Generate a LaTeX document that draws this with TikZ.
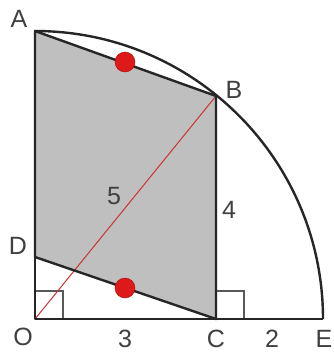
\documentclass[tikz,border=0pt]{standalone}
\usepackage{fontspec}
\setmainfont{Liberation Sans}
\begin{document}
\begin{tikzpicture}[x=1pt,y=-1pt,
  edge/.style={draw=black!85,line width=2.4pt,line join=round},
  rmark/.style={draw=black!65,line width=1.3pt},
  lbl/.style={font=\fontsize{25}{30}\selectfont,text=black!75,inner sep=0pt},
  dot/.style={circle,fill=red!85!black!90,draw=red!70!black,inner sep=0pt,minimum size=20pt}]
\useasboundingbox[fill=white] (0,0) rectangle (334,353);
\coordinate (O) at (35,319);
\coordinate (A) at (35,31);
\coordinate (B) at (216,96);
\coordinate (C) at (216,319);
\coordinate (D) at (35,257);
\coordinate (E) at (323,319);
\fill[black!25] (A) -- (B) -- (C) -- (D) -- cycle;
\draw[rmark] (35,291) -- (63,291) -- (63,319);
\draw[rmark] (216,291) -- (244,291) -- (244,319);
\draw[red!75!black!80,line width=1pt] (O) -- (B);
\draw[edge] (A) -- (B) -- (C) -- (D) -- cycle;
\draw[edge] (D) -- (O) -- (E);
\draw[edge] (A) arc[start angle=-90,end angle=0,radius=288];
\node[dot] (m1) at (125,62) {};
\node[dot] (m2) at (125,288) {};
\node[lbl] (lA) at (19,19) {A};
\node[lbl] (lB) at (234,90) {B};
\node[lbl] (lD) at (18,246) {D};
\node[lbl] (lO) at (23,337) {O};
\node[lbl] (l3) at (125,339) {3};
\node[lbl] (lC) at (216,339) {C};
\node[lbl] (l2) at (272,339) {2};
\node[lbl] (lE) at (324,339) {E};
\node[lbl] (l5) at (114,196) {5};
\node[lbl] (l4) at (229,210) {4};
\end{tikzpicture}
\end{document}
